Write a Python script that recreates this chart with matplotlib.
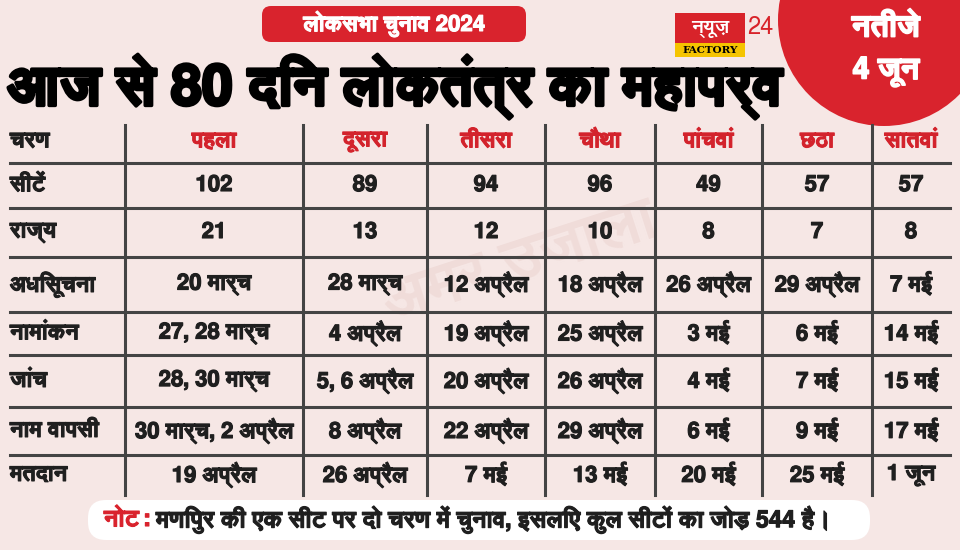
import matplotlib
matplotlib.use("Agg")
import matplotlib.pyplot as plt
import matplotlib.patches as patches
import matplotlib.patheffects as pe
from matplotlib import font_manager
from matplotlib.ft2font import FT2Font

# ---- data ----
phases = ['पहला', 'दूसरा', 'तीसरा', 'चौथा', 'पांचवां', 'छठा', 'सातवां']
row_labels = ['सीटें', 'राज्य', 'अधिसूचना', 'नामांकन', 'जांच', 'नाम वापसी', 'मतदान']
seats = [102, 89, 94, 96, 49, 57, 57]
states = [21, 13, 12, 10, 8, 7, 8]
notification = ['20 मार्च', '28 मार्च', '12 अप्रैल', '18 अप्रैल', '26 अप्रैल', '29 अप्रैल', '7 मई']
nomination = ['27, 28 मार्च', '4 अप्रैल', '19 अप्रैल', '25 अप्रैल', '3 मई', '6 मई', '14 मई']
scrutiny = ['28, 30 मार्च', '5, 6 अप्रैल', '20 अप्रैल', '26 अप्रैल', '4 मई', '7 मई', '15 मई']
withdrawal = ['30 मार्च, 2 अप्रैल', '8 अप्रैल', '22 अप्रैल', '29 अप्रैल', '6 मई', '9 मई', '17 मई']
polling = ['19 अप्रैल', '26 अप्रैल', '7 मई', '13 मई', '20 मई', '25 मई', '1 जून']


def find_devanagari_fonts():
    regular, bold = None, None
    for f in font_manager.fontManager.ttflist:
        try:
            ft = FT2Font(f.fname)
            if ft.get_char_index(ord('क')) == 0:
                continue
        except Exception:
            continue
        if f.weight in ('bold', 700, 800, 900) or 'Bold' in f.fname:
            bold = bold or f.name
        else:
            regular = regular or f.name
    return regular or bold, bold or regular


reg_font, bold_font = find_devanagari_fonts()
fam = [x for x in (bold_font, reg_font) if x] + ['DejaVu Sans']
plt.rcParams['font.family'] = fam


def heavy(color, w):
    return [pe.withStroke(linewidth=w, foreground=color)]


fig = plt.figure(figsize=(9.6, 5.5), dpi=100)
fig.patch.set_facecolor('#f6e7e5')
ax = fig.add_axes([0, 0, 1, 1])
ax.set_xlim(0, 960)
ax.set_ylim(550, 0)
ax.axis('off')

red = '#d9232d'
dark = '#1f1f1f'

# faint watermark
ax.text(520, 262, 'अमर उजाला', color='#f0dcd9', ha='center', va='center', fontsize=44,
        fontweight='bold', rotation=18, zorder=0)

# top badge
ax.add_patch(patches.FancyBboxPatch((262, 6), 264, 36, boxstyle='round,pad=0,rounding_size=9',
                                    facecolor=red, edgecolor='none'))
ax.text(394, 24, 'लोकसभा चुनाव 2024', color='white', ha='center', va='center',
        fontsize=16, fontweight='bold', path_effects=heavy('white', 0.8))

# headline
ax.text(8, 86, 'आज से 80 दिन लोकतंत्र का महापर्व', color='black', ha='left', va='center',
        fontsize=40, fontweight='bold', path_effects=heavy('black', 2.5))

# logo
ax.add_patch(patches.Rectangle((675, 13), 70, 30, facecolor='#d8232a', edgecolor='none'))
ax.text(710, 28, 'न्यूज़', color='white', ha='center', va='center', fontsize=14, fontweight='bold')
ax.text(760, 28, '24', color='#d8232a', ha='center', va='center', fontsize=17)
ax.add_patch(patches.Rectangle((675, 43), 70, 14, facecolor='#f5c400', edgecolor='none'))
ax.text(710, 50.5, 'FACTORY', color='black', ha='center', va='center', fontsize=7.5,
        fontweight='bold', family='DejaVu Serif')

# results circle
ax.add_patch(patches.Circle((884, 20), 106, facecolor=red, edgecolor='none'))
ax.text(886, 28, 'नतीजे', color='white', ha='center', va='center', fontsize=22,
        fontweight='bold', path_effects=heavy('white', 1.2))
ax.text(886, 72, '4 जून', color='white', ha='center', va='center', fontsize=22,
        fontweight='bold', path_effects=heavy('white', 1.2))

# table geometry
col_edges = [10, 125, 303, 427, 545, 655, 762, 872, 950]
row_edges = [120, 163, 208, 257, 312, 355, 407, 455, 495]

rows = [[str(v) for v in seats], [str(v) for v in states], notification,
        nomination, scrutiny, withdrawal, polling]

for x in col_edges[1:-1]:
    ax.plot([x, x], [row_edges[0] + 5, row_edges[-1]], color='#444444', lw=2.2)
for y in row_edges[1:-1]:
    ax.plot([col_edges[0], col_edges[-1]], [y, y], color='#444444', lw=2.2)


def cy(i):
    return (row_edges[i] + row_edges[i + 1]) / 2


fs = 16
ax.text(col_edges[0], cy(0), 'चरण', color=dark, ha='left', va='center', fontsize=fs,
        fontweight='bold', path_effects=heavy(dark, 0.8))
for j, p in enumerate(phases):
    cx = (col_edges[j + 1] + col_edges[j + 2]) / 2
    ax.text(cx, cy(0), p, color='#d3232c', ha='center', va='center', fontsize=fs,
            fontweight='bold', path_effects=heavy('#d3232c', 0.8))

for i, (lab, vals) in enumerate(zip(row_labels, rows)):
    ax.text(col_edges[0], cy(i + 1), lab, color=dark, ha='left', va='center',
            fontsize=fs, fontweight='bold', path_effects=heavy(dark, 0.8))
    for j, v in enumerate(vals):
        cx = (col_edges[j + 1] + col_edges[j + 2]) / 2
        ax.text(cx, cy(i + 1), v, color=dark, ha='center', va='center', fontsize=fs,
                fontweight='bold', path_effects=heavy(dark, 0.8))

# note pill
ax.add_patch(patches.FancyBboxPatch((88, 500), 782, 40, boxstyle='round,pad=0,rounding_size=18',
                                    facecolor='white', edgecolor='none'))
t1 = ax.text(104, 520, 'नोट:', color=red, ha='left', va='center', fontsize=17,
             fontweight='bold', path_effects=heavy(red, 0.8))
fig.canvas.draw()
bb = t1.get_window_extent()
x_next = ax.transData.inverted().transform((bb.x1, bb.y0))[0]
ax.text(x_next + 6, 520, 'मणिपुर की एक सीट पर दो चरण में चुनाव, इसलिए कुल सीटों का जोड़ 544 है।',
        color=dark, ha='left', va='center', fontsize=17, fontweight='bold',
        path_effects=heavy(dark, 0.8))

fig.savefig('out.png', dpi=100, facecolor=fig.get_facecolor())
